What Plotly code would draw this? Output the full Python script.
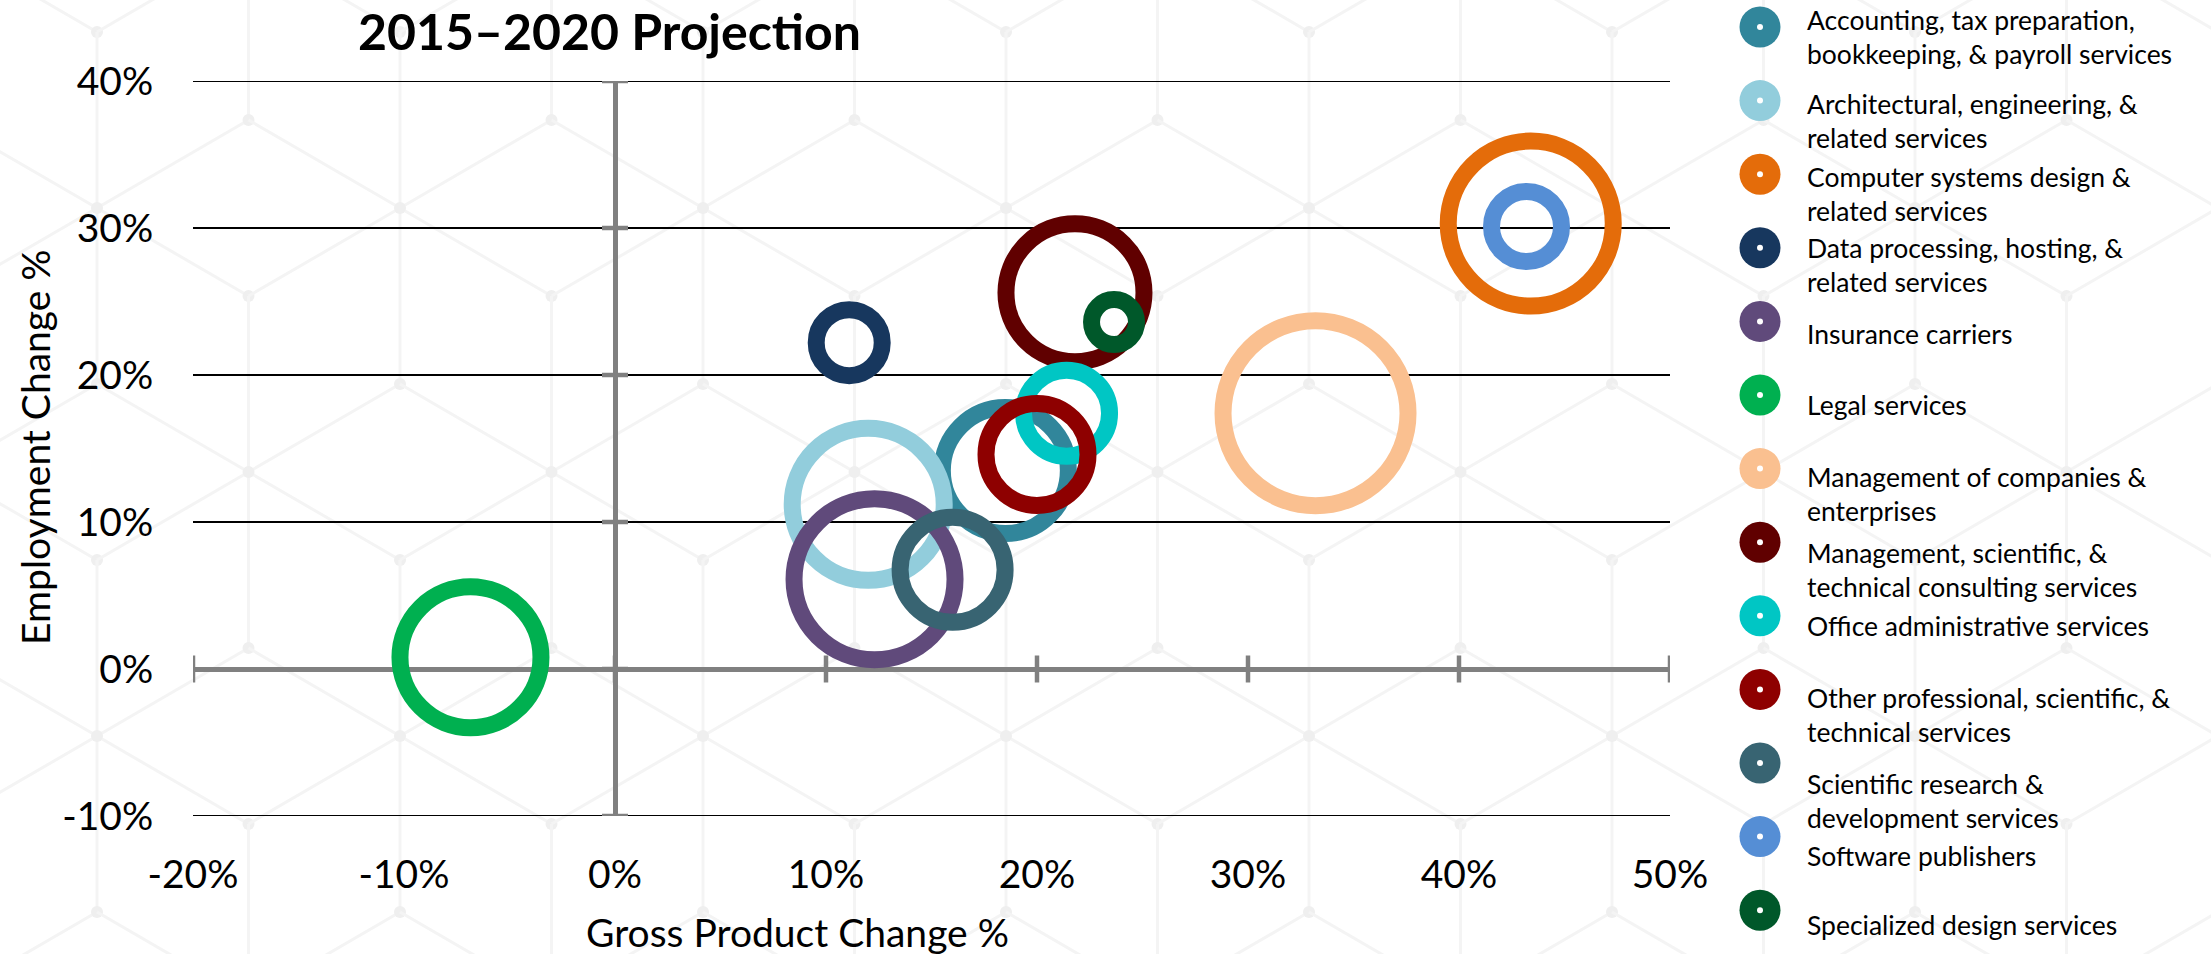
import plotly.graph_objects as go

# ---------------- data ----------------
legend_labels = [
    "Accounting, tax preparation,<br>bookkeeping, & payroll services",
    "Architectural, engineering, &<br>related services",
    "Computer systems design &<br>related services",
    "Data processing, hosting, &<br>related services",
    "Insurance carriers",
    "Legal services",
    "Management of companies &<br>enterprises",
    "Management, scientific, &<br>technical consulting services",
    "Office administrative services",
    "Other professional, scientific, &<br>technical services",
    "Scientific research &<br>development services",
    "Software publishers",
    "Specialized design services",
]
categories = [s.replace("<br>", " ") for s in legend_labels]

gross_product_change = [18.5, 12.0, 43.4, 11.1, 12.3, -6.85, 33.2, 21.8, 21.4, 20.0, 16.0, 43.2, 23.65]
employment_change = [13.5, 11.2, 30.3, 22.2, 6.1, 0.8, 17.4, 25.6, 17.4, 14.6, 6.75, 30.1, 23.6]
bubble_size = [126, 152, 165, 66, 161, 141, 185, 138, 86, 102, 105, 70, 45]

colors = ["#31869B", "#92CDDC", "#E46C0A", "#17375E", "#604A7B", "#00B050", "#FAC090",
          "#600000", "#00C6C4", "#8E0000", "#386472", "#558ED5", "#00582A"]

x_ticks = [-20, -10, 0, 10, 20, 30, 40, 50]
x_tick_labels = ["-20%", "-10%", "0%", "10%", "20%", "30%", "40%", "50%"]
y_ticks = [-10, 0, 10, 20, 30, 40]
y_tick_labels = ["-10%", "0%", "10%", "20%", "30%", "40%"]

title_text = "2015\u20132020 Projection"
x_title = "Gross Product Change %"
y_title = "Employment Change %"

# ---------------- layout constants ----------------
W, H = 2211, 954
PL, PR, PT, PB = 193, 1670, 81, 816
RING = 17
AX_GRAY = "#808080"
FONT = "Lato"
# vertical offset (px) of each legend text block below its marker centre
legend_text_offsets = [9.5, 20, 20, 17.5, 13, 10, 25, 27.5, 10, 25.5, 37.5, 19, 15]

fig = go.Figure()

for i, name in enumerate(categories):
    fig.add_trace(go.Scatter(
        x=[gross_product_change[i]], y=[employment_change[i]],
        mode="markers", name=name, showlegend=False,
        marker=dict(size=[bubble_size[i]], sizemode="diameter", opacity=1,
                    color="rgba(0,0,0,0)",
                    line=dict(color=colors[i], width=RING)),
        xaxis="x", yaxis="y",
    ))

# custom legend (filled circle with white centre dot)
n = len(categories)
idx = list(range(n))
fig.add_trace(go.Scatter(x=[0] * n, y=idx, mode="markers", showlegend=False, hoverinfo="skip",
                         marker=dict(size=41, color=colors, opacity=1), xaxis="x2", yaxis="y2"))
fig.add_trace(go.Scatter(x=[0] * n, y=idx, mode="markers", showlegend=False, hoverinfo="skip",
                         marker=dict(size=6, color="white", opacity=1), xaxis="x2", yaxis="y2"))

LEG_STEP = 73.6
LEG_TOP = 27
annotations = []
for k, lab in enumerate(legend_labels):
    off = legend_text_offsets[k] / LEG_STEP
    annotations.append(dict(text=lab, xref="paper", yref="y2", x=1805 / W, y=k + off,
                            xanchor="left", yanchor="middle", align="left", showarrow=False,
                            font=dict(family=FONT, size=26.5, color="#000000")))

annotations.append(dict(text="<b>" + title_text + "</b>", xref="paper", yref="paper",
                        x=609 / W, y=1 - 31 / H, xanchor="center", yanchor="middle",
                        showarrow=False, font=dict(family=FONT, size=50, color="#000000")))
annotations.append(dict(text=x_title, xref="paper", yref="paper",
                        x=797 / W, y=1 - 932 / H, xanchor="center", yanchor="middle",
                        showarrow=False, font=dict(family=FONT, size=39, color="#000000")))
annotations.append(dict(text=y_title, xref="paper", yref="paper", textangle=-90,
                        x=35 / W, y=1 - 447 / H, xanchor="center", yanchor="middle",
                        showarrow=False, font=dict(family=FONT, size=39, color="#000000")))

shapes = []
# faint isometric background pattern
DX, DYH, DY = 151.5, 88, 176
X0, Y0 = 97, 32
def pt(i, m):
    return X0 + DX * i, Y0 + DYH * i + DY * m
nbrs = [(1, 0), (-1, 0), (0, 1), (0, -1), (1, -1), (-1, 1)]
for i in range(-2, 18):
    for m in range(-14, 10):
        px, py = pt(i, m)
        if -200 < px < W + 200 and -200 < py < H + 200:
            if (i - m) % 3 == 2:
                for di, dm in nbrs:
                    qx, qy = pt(i + di, m + dm)
                    shapes.append(dict(type="line", xref="paper", yref="paper",
                                       x0=px / W, y0=1 - py / H, x1=qx / W, y1=1 - qy / H,
                                       line=dict(color="#f4f4f4", width=3), layer="below"))
            if -20 < px < W + 20 and -20 < py < H + 20:
                shapes.append(dict(type="circle", xref="paper", yref="paper",
                                   xsizemode="pixel", ysizemode="pixel",
                                   xanchor=px / W, yanchor=1 - py / H,
                                   x0=-6, x1=6, y0=-6, y1=6,
                                   fillcolor="#efefef", line=dict(width=0), layer="below"))

# horizontal gridlines (including the ones on the plot edges)
for t in y_ticks:
    if t != 0:
        shapes.append(dict(type="line", xref="x domain", yref="y", x0=0, x1=1, y0=t, y1=t,
                           line=dict(color="#000000", width=2), layer="below"))

# crossing tick marks on the axes through the origin
for t in x_ticks:
    shapes.append(dict(type="line", xref="x", yref="y", x0=t, x1=t,
                       ysizemode="pixel", yanchor=0, y0=-13.5, y1=13.5,
                       line=dict(color=AX_GRAY, width=4.5), layer="between"))
for t in y_ticks:
    shapes.append(dict(type="line", xref="x", yref="y", y0=t, y1=t,
                       xsizemode="pixel", xanchor=0, x0=-13, x1=13,
                       line=dict(color=AX_GRAY, width=4.5), layer="between"))

fig.update_layout(
    width=W, height=H, autosize=False,
    margin=dict(l=0, r=0, t=0, b=0, pad=0, autoexpand=False),
    paper_bgcolor="white", plot_bgcolor="rgba(0,0,0,0)",
    showlegend=False,
    xaxis=dict(domain=[PL / W, PR / W], range=[-20, 50], tickvals=x_ticks, ticktext=x_tick_labels,
               showgrid=False, zeroline=True, zerolinecolor=AX_GRAY, zerolinewidth=4.5,
               showline=False, ticks="outside", ticklen=24, tickcolor="rgba(0,0,0,0)",
               tickfont=dict(family=FONT, size=39, color="#000000"), anchor="y", automargin=False),
    yaxis=dict(domain=[1 - PB / H, 1 - PT / H], range=[-10, 40],
               tickvals=y_ticks, ticktext=y_tick_labels,
               showgrid=False,
               zeroline=True, zerolinecolor=AX_GRAY, zerolinewidth=5,
               showline=False, ticks="outside", ticklen=31, tickcolor="rgba(0,0,0,0)",
               tickfont=dict(family=FONT, size=39, color="#000000"), anchor="x", automargin=False),
    xaxis2=dict(domain=[1700 / W, 1.0], range=[-60 / 511, 451 / 511], visible=False,
                anchor="y2", automargin=False),
    yaxis2=dict(domain=[0, 1], range=[(H - LEG_TOP) / LEG_STEP, -LEG_TOP / LEG_STEP],
                visible=False, anchor="x2", automargin=False),
    annotations=annotations,
    shapes=shapes,
    font=dict(family=FONT, color="#000000"),
)

fig.write_html("out.html", config={"displayModeBar": False},
               post_script="document.body.style.margin='0';document.body.style.overflow='hidden';")
